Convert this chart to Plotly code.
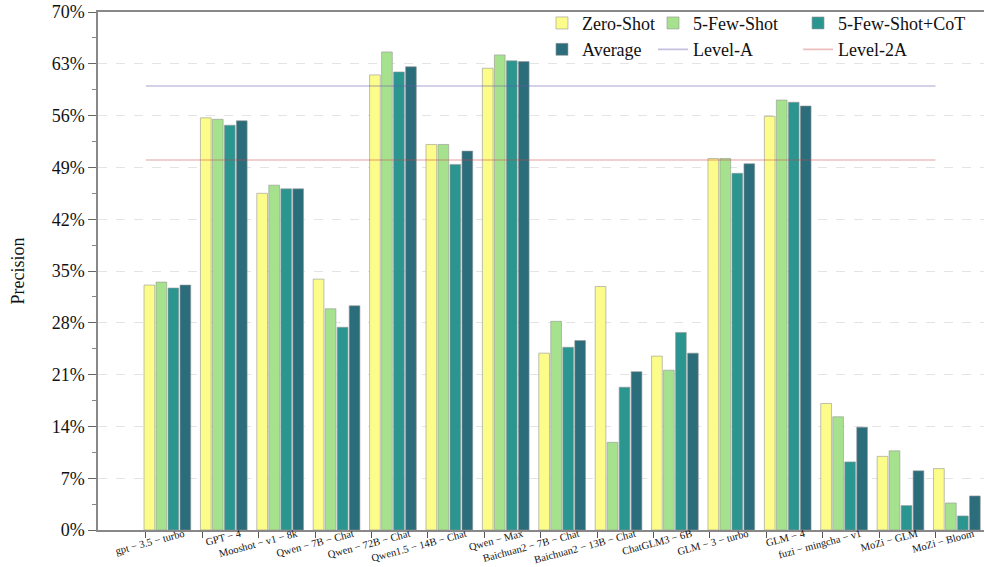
import plotly.graph_objects as go

models = ["gpt − 3.5 − turbo", "GPT − 4", "Mooshot − v1 − 8k", "Qwen − 7B − Chat",
          "Qwen − 72B − Chat", "Qwen1.5 − 14B − Chat", "Qwen − Max",
          "Baichuan2 − 7B − Chat", "Baichuan2 − 13B − Chat", "ChatGLM3 − 6B",
          "GLM − 3 − turbo", "GLM − 4", "fuzi − mingcha − v1", "MoZi − GLM", "MoZi − Bloom"]

zero_shot = [33.1, 55.7, 45.5, 33.9, 61.5, 52.1, 62.4, 23.9, 32.9, 23.5, 50.2, 55.9, 17.1, 9.95, 8.3]
few_shot = [33.5, 55.5, 46.6, 29.9, 64.6, 52.1, 64.2, 28.2, 11.85, 21.6, 50.2, 58.1, 15.3, 10.7, 3.65]
few_shot_cot = [32.7, 54.7, 46.1, 27.4, 61.9, 49.4, 63.4, 24.7, 19.3, 26.7, 48.2, 57.8, 9.2, 3.3, 1.9]
average = [33.1, 55.3, 46.1, 30.3, 62.6, 51.2, 63.3, 25.6, 21.4, 23.9, 49.5, 57.3, 13.9, 8.0, 4.6]

level_a = 60
level_2a = 50

yticks = [0, 7, 14, 21, 28, 35, 42, 49, 56, 63, 70]

FONT = "Liberation Serif"
x = list(range(len(models)))

series = [
    ("Zero-Shot", zero_shot, "#fbfc8a", "legend"),
    ("5-Few-Shot", few_shot, "#a6e28e", "legend2"),
    ("5-Few-Shot+CoT", few_shot_cot, "#2b9590", "legend3"),
    ("Average", average, "#2b6d7b", "legend"),
]

BAR_W = 0.19
PITCH = 0.2128
START = -0.035

fig = go.Figure()
for k, (name, vals, color, lg) in enumerate(series):
    fig.add_trace(go.Bar(
        x=x, y=vals, name=name, width=BAR_W, offset=START + k * PITCH,
        marker=dict(color=color, line=dict(color="rgba(150,150,150,0.75)", width=0.8)),
        legend=lg,
    ))

fig.add_trace(go.Scatter(x=[x[0], x[-1]], y=[level_a, level_a], mode="lines", name="Level-A",
                         xaxis="x2",
                         line=dict(color="rgba(100,90,170,0.38)", width=1.6), legend="legend2"))
fig.add_trace(go.Scatter(x=[x[0], x[-1]], y=[level_2a, level_2a], mode="lines", name="Level-2A",
                         xaxis="x2",
                         line=dict(color="rgba(200,70,70,0.35)", width=1.6), legend="legend3"))

xrange = [-0.851, 14.86]
fig.update_layout(
    template="none",
    width=984, height=567,
    margin=dict(l=98, r=0, t=12, b=37, autoexpand=False),
    paper_bgcolor="white", plot_bgcolor="white",
    barmode="overlay",
    font=dict(family=FONT, size=18, color="#111"),
    xaxis=dict(range=xrange, tickvals=x, ticktext=[""] * len(x), ticks="outside", ticklen=6,
               tickcolor="#555", tickwidth=1.2, showline=True, linecolor="#888", linewidth=1.5,
               mirror=True, showgrid=False, zeroline=False, automargin=False),
    xaxis2=dict(range=xrange, overlaying="x", side="bottom", tickvals=[i + 0.67 for i in x],
                ticktext=models, tickangle=-15, ticks="", showline=False, showgrid=False,
                zeroline=False, automargin=False, ticklabelstandoff=-5,
                tickfont=dict(family=FONT, size=10.5, color="#111")),
    yaxis=dict(range=[0, 70], tickvals=yticks, ticktext=[f"{v}%" for v in yticks],
               ticks="outside", ticklen=8, tickcolor="#666", tickwidth=1.2,
               showline=True, linecolor="#888", linewidth=1.5, automargin=False,
               showgrid=True, gridcolor="#e4e4e4", griddash="dash", gridwidth=1,
               zeroline=False, tickfont=dict(family=FONT, size=18, color="#111"),
               minor=dict(dtick=3.5, tick0=0, ticks="outside", ticklen=4, tickcolor="#888", showgrid=False),
               title=dict(text="Precision", font=dict(family=FONT, size=18), standoff=22)),
    legend=dict(x=0.5011, y=1.014, xanchor="left", yanchor="top", bgcolor="rgba(0,0,0,0)",
                font=dict(family=FONT, size=18), tracegroupgap=0),
    legend2=dict(x=0.6264, y=1.014, xanchor="left", yanchor="top", bgcolor="rgba(0,0,0,0)",
                 font=dict(family=FONT, size=18), tracegroupgap=0),
    legend3=dict(x=0.7901, y=1.014, xanchor="left", yanchor="top", bgcolor="rgba(0,0,0,0)",
                 font=dict(family=FONT, size=18), tracegroupgap=0),
)

fig.write_html("out.html", config={"displayModeBar": False},
               post_script="document.body.style.margin='0';")
